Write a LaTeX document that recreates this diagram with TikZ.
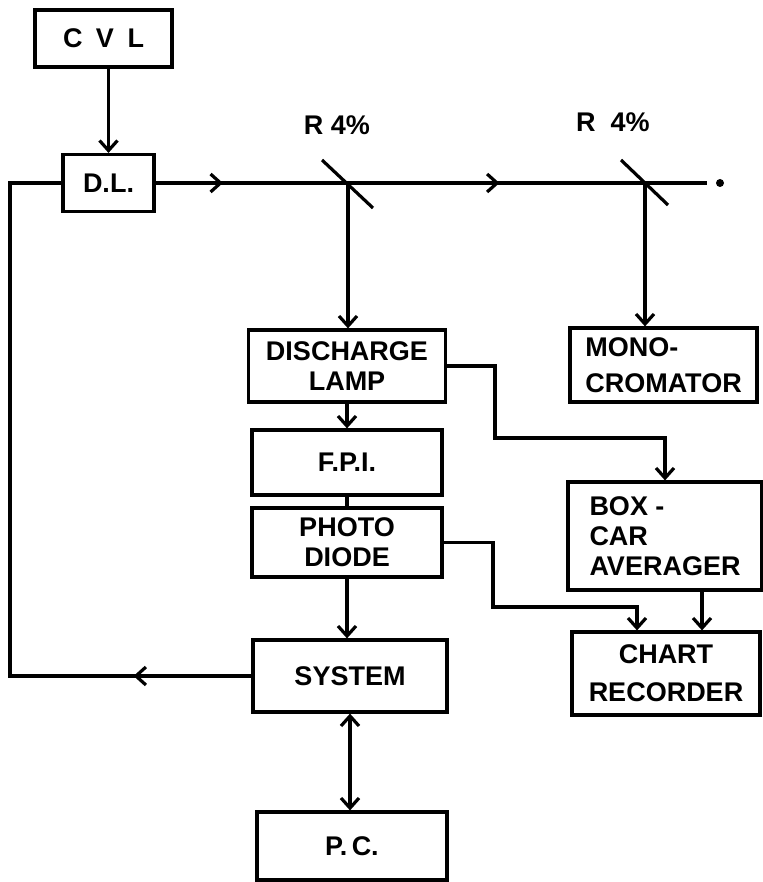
\documentclass[tikz,border=0pt]{standalone}
\usepackage{fontspec}
\setmainfont{Liberation Sans}
\usetikzlibrary{positioning,arrows.meta,calc,decorations.markings}

\begin{document}
\begin{tikzpicture}[x=0.5pt,y=-0.5pt,line width=1.6pt,
    font=\bfseries\fontsize{13.5}{15}\selectfont,
    blk/.style={draw,rectangle,inner sep=0pt,align=center},
    arr/.style={-{Straight Barb[length=5pt,width=9pt]}},
    dbl/.style={{Straight Barb[length=5pt,width=9pt]}-{Straight Barb[length=5pt,width=9pt]}},
    midarr/.style={postaction={decorate},decoration={markings,
      mark=at position #1 with {\arrow{Straight Barb[length=5pt,width=9pt]}}}}]
  \useasboundingbox (0,0) rectangle (763,882);

  % boxes
  \node[blk,minimum width=68.5pt,minimum height=28.5pt] (cvl)   at (103.5,38.5) {C\enspace V\enspace L};
  \node[blk,minimum width=45.5pt,minimum height=28.5pt] (dl)    at (108.5,183) {D.L.};
  \node[blk,minimum width=98.5pt,minimum height=36pt]   (dis)   at (347,366)   {DISCHARGE\\LAMP};
  \node[blk,minimum width=95pt,minimum height=32.5pt]   (fpi)   at (347,462.5) {F.P.I.};
  \node[blk,minimum width=95pt,minimum height=34.5pt]   (pd)    at (347,542.5) {PHOTO\\DIODE};
  \node[blk,minimum width=97pt,minimum height=36pt]     (sys)   at (350,676)   {SYSTEM};
  \node[blk,minimum width=95pt,minimum height=34pt]     (pc)    at (352,846)   {P.\,C.};
  \node[blk,align=left,minimum width=93.5pt,minimum height=37pt] (mono) at (663.5,365) {MONO-\\[3pt]CROMATOR};
  \node[blk,align=left,minimum width=97pt,minimum height=54pt]   (box)  at (665,536)   {BOX -\\CAR\\AVERAGER};
  \node[blk,minimum width=94pt,minimum height=41.5pt]   (chart) at (666,673.5) {CHART\\[4pt]RECORDER};

  % beam splitters
  \coordinate (bs1) at (348,183);
  \coordinate (bs2) at (645,183);
  \coordinate (bend) at (707,183);
  \coordinate (fb) at (10,676);
  \coordinate (tapA) at (495,438);
  \coordinate (tapB) at (493,607);
  \draw (bs1) ++(-26,-23) -- ++(51,48);
  \draw (bs2) ++(-24,-23) -- ++(47,45);
  \node (r1) at (337,125) {R 4\%};
  \node (r2) at (613,122) {R\ \ 4\%};

  % connections
  \draw[arr] (cvl.south -| dl.north) -- (dl.north);
  \draw[midarr=0.35] (dl.east) -- (bs1);
  \draw[midarr=0.51] (bs1) -- (bs2);
  \draw (bs2) -- (bend);
  \fill (720,183) circle (2pt);
  \draw[arr] (bs1) -- (bs1 |- dis.north);
  \draw[arr] (bs2) -- (bs2 |- mono.north);
  \draw[arr] (dis.south) -- (fpi.north);
  \draw (fpi.south) -- (pd.north);
  \draw[arr] (pd.south) -- (pd.south |- sys.north);
  \draw[dbl] (sys.south) -- (sys.south |- pc.north);
  \draw[arr] (dis.east) -| (tapA) -| (box.north);
  \draw[arr] (pd.east) -| (tapB) -| ($(chart.north)+(-29,0)$);
  \draw[arr] ($(box.south)+(37,0)$) -- ($(chart.north)+(36,0)$);
  \draw[midarr=0.15] (sys.west) -- (fb) |- (dl.west);
\end{tikzpicture}
\end{document}
